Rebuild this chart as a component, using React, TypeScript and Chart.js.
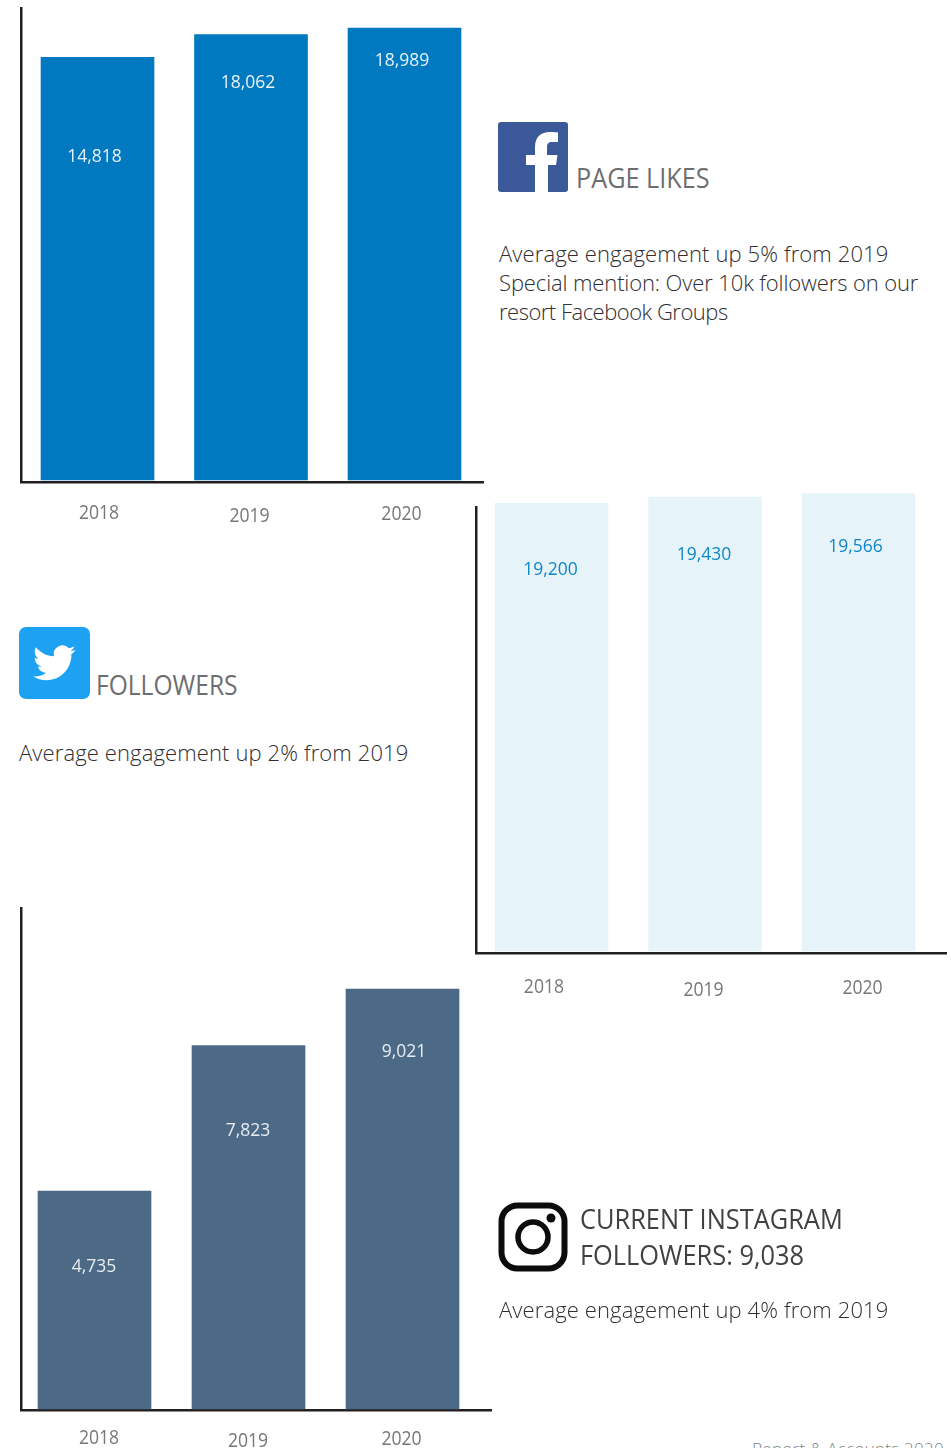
import React, { useEffect, useRef } from "react";
import { Chart, registerables } from "chart.js";

Chart.register(...registerables);

const years = ["2018", "2019", "2020"];
const pageLikes = [14818, 18062, 18989];
const twitterFollowers = [19200, 19430, 19566];
const instagramFollowers = [4735, 7823, 9021];

const AXIS_COLOR = "#231f20";
const YEAR_COLOR = "#77777a";
const FONT = '"Open Sans", sans-serif';

type PanelProps = {
  values: number[];
  barColor: string;
  labelColor: string;
  box: { left: number; top: number; width: number; height: number };
  area: { left: number; top: number; right: number; bottom: number };
  xRange: [number, number];
  yRange: [number, number];
  base: number;
  labelShift: { dx: number; dy: number }[];
  yearShift: { dx: number; y: number }[];
};

// Draws the value inside each bar and the year under it, both anchored to the bar elements.
const barText = {
  id: "barText",
  afterDatasetsDraw(chart: any, _args: any, opts: any) {
    const { ctx } = chart;
    const bars = chart.getDatasetMeta(0).data;
    bars.forEach((bar: any, i: number) => {
      ctx.save();
      ctx.textAlign = "center";
      ctx.textBaseline = "middle";
      ctx.fillStyle = opts.labelColor;
      ctx.font = `400 17.5px ${FONT}`;
      ctx.fillText(
        opts.values[i].toLocaleString("en-US"),
        bar.x + opts.labelShift[i].dx,
        bar.y + opts.labelShift[i].dy
      );
      ctx.translate(bar.x + opts.yearShift[i].dx, opts.yearShift[i].y - opts.box.top);
      ctx.scale(0.88, 1);
      ctx.fillStyle = YEAR_COLOR;
      ctx.font = `400 20px ${FONT}`;
      ctx.fillText(years[i], 0, 0);
      ctx.restore();
    });
  },
};

function BarPanel(p: PanelProps) {
  const ref = useRef<HTMLCanvasElement>(null);
  useEffect(() => {
    const chart = new Chart(ref.current!, {
      type: "bar",
      data: {
        datasets: [
          {
            data: p.values.map((y, x) => ({ x, y })),
            backgroundColor: p.barColor,
            barThickness: 113,
            base: p.base,
            clip: false,
          } as any,
        ],
      },
      plugins: [barText],
      options: {
        animation: false,
        responsive: false,
        layout: {
          padding: {
            left: p.area.left - p.box.left,
            top: p.area.top - p.box.top,
            right: p.box.left + p.box.width - p.area.right,
            bottom: p.box.top + p.box.height - p.area.bottom,
          },
        },
        plugins: {
          legend: { display: false },
          tooltip: { enabled: false },
          barText: {
            values: p.values,
            labelColor: p.labelColor,
            labelShift: p.labelShift,
            yearShift: p.yearShift,
            box: p.box,
          },
        } as any,
        scales: {
          x: {
            type: "linear",
            offset: false,
            min: p.xRange[0],
            max: p.xRange[1],
            grid: { display: false, drawTicks: false },
            ticks: { display: false },
            border: { display: true, color: AXIS_COLOR, width: 2.5 },
            afterFit: (scale: any) => {
              scale.height = 0;
            },
          },
          y: {
            min: p.yRange[0],
            max: p.yRange[1],
            grid: { display: false, drawTicks: false },
            ticks: { display: false },
            border: { display: true, color: AXIS_COLOR, width: 2.5 },
            afterFit: (scale: any) => {
              scale.width = 0;
            },
          },
        },
      },
    });
    return () => chart.destroy();
  }, []);
  return (
    <canvas
      ref={ref}
      width={p.box.width}
      height={p.box.height}
      style={{ position: "absolute", left: p.box.left, top: p.box.top, width: p.box.width, height: p.box.height }}
    />
  );
}

const heading = (left: number, top: number, color: string, stretch: number): React.CSSProperties => ({
  position: "absolute",
  left,
  top,
  margin: 0,
  fontFamily: FONT,
  fontSize: 27,
  lineHeight: "36px",
  color,
  whiteSpace: "nowrap",
  transform: `scaleX(${stretch})`,
  transformOrigin: "left top",
});

const bodyText = (left: number, top: number): React.CSSProperties => ({
  position: "absolute",
  left,
  top,
  margin: 0,
  fontFamily: FONT,
  fontWeight: 300,
  fontSize: 22,
  lineHeight: "29px",
  color: "#2f2e30",
  whiteSpace: "nowrap",
});

function FacebookIcon() {
  return (
    <svg width={70} height={70} viewBox="0 0 70 70" style={{ position: "absolute", left: 498, top: 122 }}>
      <rect width={70} height={70} rx={3} fill="#3b5998" />
      <path
        d="M37 70V43H28V33h9v-8c0-10 6-15 15-15 3.500 0 6.500.3 8 .4v9.600h-5.500c-4.500 0-5.500 2-5.500 5.300V33h10.500l-1.500 10H50v27z"
        fill="#fff"
      />
    </svg>
  );
}

function TwitterIcon() {
  return (
    <svg width={71} height={72} viewBox="0 0 71 72" style={{ position: "absolute", left: 19, top: 627 }}>
      <rect width={71} height={72} rx={7} fill="#1da1f2" />
      <g transform="translate(14 14.500) scale(1.78)">
        <path
          d="M23.953 4.57a10 10 0 01-2.825.775 4.958 4.958 0 002.163-2.723c-.951.555-2.005.959-3.127 1.184a4.92 4.92 0 00-8.384 4.482C7.69 8.095 4.067 6.13 1.64 3.162a4.822 4.822 0 00-.666 2.475c0 1.71.87 3.213 2.188 4.096a4.904 4.904 0 01-2.228-.616v.06a4.923 4.923 0 003.946 4.827 4.996 4.996 0 01-2.212.085 4.936 4.936 0 004.604 3.417 9.867 9.867 0 01-6.102 2.105c-.39 0-.779-.023-1.17-.067a13.995 13.995 0 007.557 2.209c9.053 0 13.998-7.496 13.998-13.985 0-.21 0-.42-.015-.63A9.935 9.935 0 0024 4.59z"
          fill="#fff"
        />
      </g>
    </svg>
  );
}

function InstagramIcon() {
  return (
    <svg width={70} height={70} viewBox="0 0 70 70" style={{ position: "absolute", left: 498, top: 1202 }}>
      <rect x={3.500} y={3.500} width={63} height={63} rx={16} fill="none" stroke="#0c0c0c" strokeWidth={6} />
      <circle cx={35} cy={35} r={15} fill="none" stroke="#0c0c0c" strokeWidth={5.500} />
      <circle cx={53} cy={16} r={4.500} fill="#0c0c0c" />
    </svg>
  );
}

export default function App() {
  return (
    <div style={{ position: "absolute", left: 0, top: 0, width: 951, height: 1448, overflow: "hidden", background: "#fff" }}>
      <BarPanel
        values={pageLikes}
        barColor="#0079c1"
        labelColor="#e8f3fa"
        box={{ left: 0, top: 0, width: 490, height: 530 }}
        area={{ left: 21, top: 8, right: 483, bottom: 482 }}
        xRange={[-0.4984, 2.5114]}
        yRange={[-45808, 21858]}
        base={-45522}
        labelShift={[{ dx: -3, dy: 100 }, { dx: -3, dy: 48 }, { dx: -2.5, dy: 33 }]}
        yearShift={[{ dx: 1.5, y: 513 }, { dx: -1.5, y: 516 }, { dx: -3, y: 514 }]}
      />
      <BarPanel
        values={twitterFollowers}
        barColor="#e6f4fa"
        labelColor="#0f86c8"
        box={{ left: 470, top: 485, width: 481, height: 520 }}
        area={{ left: 476.5, top: 507, right: 946, bottom: 953 }}
        xRange={[-0.4886, 2.57]}
        yRange={[2229, 19059]}
        base={2304}
        labelShift={[{ dx: -1, dy: 67 }, { dx: -1, dy: 58 }, { dx: -3, dy: 53 }]}
        yearShift={[{ dx: -7.5, y: 987 }, { dx: -1.5, y: 990 }, { dx: 4, y: 988 }]}
      />
      <BarPanel
        values={instagramFollowers}
        barColor="#4c6a85"
        labelColor="#e8edf2"
        box={{ left: 0, top: 900, width: 500, height: 548 }}
        area={{ left: 21, top: 908, right: 491, bottom: 1410.5 }}
        xRange={[-0.4773, 2.5746]}
        yRange={[78, 10740]}
        base={110}
        labelShift={[{ dx: -0.5, dy: 76 }, { dx: -0.5, dy: 86 }, { dx: 1.5, dy: 63 }]}
        yearShift={[{ dx: 4.5, y: 1438 }, { dx: -0.5, y: 1441 }, { dx: -1, y: 1439 }]}
      />

      <FacebookIcon />
      <div style={heading(576, 160, "#6d6e71", 0.935)}>PAGE LIKES</div>
      <div style={bodyText(499, 239)}>
        <span style={{ letterSpacing: 0.12 }}>Average engagement up 5% from 2019</span>
        <br />
        <span style={{ letterSpacing: -0.12 }}>Special mention: Over 10k followers on our</span>
        <br />
        <span style={{ letterSpacing: -0.5 }}>resort Facebook Groups</span>
      </div>

      <TwitterIcon />
      <div style={heading(96, 667, "#6d6e71", 0.91)}>FOLLOWERS</div>
      <div style={bodyText(19, 738)}>
        <span style={{ letterSpacing: 0.12 }}>Average engagement up 2% from 2019</span>
      </div>

      <InstagramIcon />
      <div style={heading(580, 1201, "#414042", 0.94)}>
        CURRENT INSTAGRAM
        <br />
        FOLLOWERS: 9,038
      </div>
      <div style={bodyText(499, 1295)}>
        <span style={{ letterSpacing: 0.12 }}>Average engagement up 4% from 2019</span>
      </div>

      <div
        style={{
          position: "absolute",
          left: 752,
          top: 1437,
          fontFamily: FONT,
          fontWeight: 300,
          fontSize: 17,
          lineHeight: "24px",
          letterSpacing: 0.27,
          color: "#808285",
          whiteSpace: "nowrap",
        }}
      >
        Report &amp; Accounts 2020
      </div>
    </div>
  );
}
